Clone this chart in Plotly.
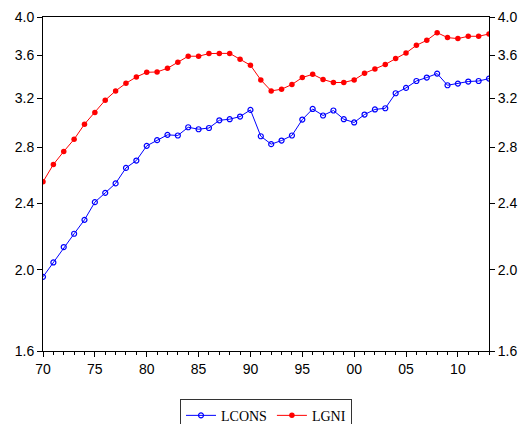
import math
import plotly.graph_objects as go

years = list(range(1970, 2014))

lcons = [1.961, 2.040, 2.128, 2.207, 2.293, 2.407, 2.469, 2.534, 2.644, 2.698,
         2.809, 2.853, 2.895, 2.890, 2.956, 2.940, 2.950, 3.013, 3.022, 3.044,
         3.100, 2.884, 2.822, 2.850, 2.890, 3.019, 3.108, 3.053, 3.095, 3.022,
         2.995, 3.061, 3.104, 3.114, 3.245, 3.293, 3.356, 3.388, 3.425, 3.317,
         3.332, 3.351, 3.356, 3.378]

lgni = [2.545, 2.669, 2.766, 2.860, 2.981, 3.078, 3.184, 3.266, 3.335, 3.393,
        3.437, 3.440, 3.475, 3.533, 3.592, 3.592, 3.618, 3.620, 3.620, 3.562,
        3.504, 3.366, 3.266, 3.281, 3.324, 3.388, 3.418, 3.370, 3.342, 3.342,
        3.366, 3.428, 3.469, 3.511, 3.569, 3.624, 3.701, 3.752, 3.832, 3.780,
        3.770, 3.794, 3.794, 3.818]

y_ticks = [1.6, 2.0, 2.4, 2.8, 3.2, 3.6, 4.0]
y_ticktext = ["1.6", "2.0", "2.4", "2.8", "3.2", "3.6", "4.0"]
x_ticks = [1970, 1975, 1980, 1985, 1990, 1995, 2000, 2005, 2010]
x_ticktext = ["70", "75", "80", "85", "90", "95", "00", "05", "10"]

yrange = [math.log10(1.6), math.log10(4.0)]

fig = go.Figure()
fig.add_trace(go.Scatter(
    x=years, y=lcons, name="LCONS", mode="lines+markers",
    line=dict(color="#0000FF", width=1),
    marker=dict(symbol="circle-open", size=5, color="#0000FF", line=dict(width=1.2)),
    yaxis="y"))
fig.add_trace(go.Scatter(
    x=years, y=lgni, name="LGNI", mode="lines+markers",
    line=dict(color="#FF0000", width=1),
    marker=dict(symbol="circle", size=5.5, color="#FF0000"),
    yaxis="y2"))

axis_font = dict(family="Liberation Sans, Arial, sans-serif", size=14, color="black")

fig.update_layout(
    width=522, height=416,
    margin=dict(l=35, r=41, t=9, b=73, autoexpand=False),
    paper_bgcolor="white", plot_bgcolor="white",
    showlegend=True,
    legend=dict(orientation="h", x=0.5, xanchor="center", y=-0.143, yanchor="top",
                bordercolor="#333333", borderwidth=1,
                font=dict(family="Liberation Serif, Times New Roman, serif", size=14, color="black"),
                itemwidth=30, tracegroupgap=0),
    xaxis=dict(range=[1970, 2013], tickvals=x_ticks, ticktext=x_ticktext,
               showgrid=False, zeroline=False, showline=True, linecolor="black",
               linewidth=1, mirror=True, ticks="outside", ticklen=5, tickcolor="black",
               tickfont=axis_font,
               minor=dict(dtick=1, tick0=1970, ticks="outside", ticklen=3, tickcolor="black", showgrid=False)),
    yaxis=dict(type="log", range=yrange, tickvals=y_ticks, ticktext=y_ticktext,
               showgrid=False, zeroline=False, showline=True, linecolor="black",
               linewidth=1, ticks="outside", ticklen=5, tickcolor="black",
               tickfont=axis_font),
    yaxis2=dict(type="log", range=yrange, tickvals=y_ticks, ticktext=y_ticktext,
                overlaying="y", side="right",
                showgrid=False, zeroline=False, showline=True, linecolor="black",
                linewidth=1, ticks="outside", ticklen=5, tickcolor="black",
                tickfont=axis_font),
)

fig.write_html("out.html")
